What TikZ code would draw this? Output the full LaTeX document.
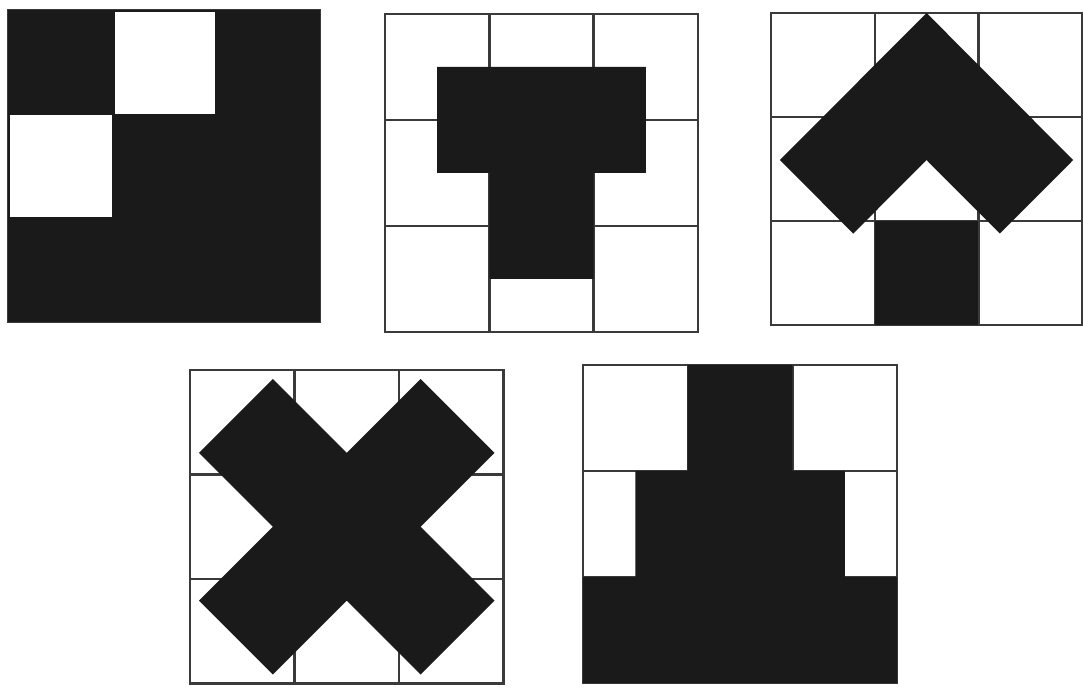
\documentclass[tikz,border=0pt]{standalone}
\definecolor{ink}{HTML}{1A1A1A}
\definecolor{gridc}{HTML}{3A3A3A}
\tikzset{
  gridline/.style={draw=gridc, line width=1.2pt, line cap=rect},
  blk/.style={fill=ink}
}
\newcommand\mypanelgrid{%
  \draw[gridline] (0,0) rectangle (3,3);
  \foreach \i in {1,2} {
    \draw[gridline] (\i,0) -- (\i,3);
    \draw[gridline] (0,\i) -- (3,\i);
  }%
}
\begin{document}
\begin{tikzpicture}[x=0.5pt,y=-0.5pt]
\useasboundingbox[fill=white] (0,0) rectangle (1083,695);

% Panel 1
\begin{scope}[shift={(8,10)},scale=104]
  \mypanelgrid
  \fill[blk] (0,0) rectangle (3,3);
  \fill[white] (1.03,0.02) rectangle (1.99,1);
  \fill[white] (0.02,1.01) rectangle (1,1.99);
\end{scope}

% Panel 2
\begin{scope}[shift={(385,14)},xscale=104.3,yscale=106]
  \mypanelgrid
  \fill[blk] (0.5,0.5) -- (2.5,0.5) -- (2.5,1.5) -- (2,1.5) -- (2,2.5)
             -- (1,2.5) -- (1,1.5) -- (0.5,1.5) -- cycle;
\end{scope}

% Panel 3
\begin{scope}[shift={(771,13)},xscale=103.7,yscale=104]
  \mypanelgrid
  \fill[blk] (1.5,0) -- (2.914,1.414) -- (2.207,2.121) -- (1.5,1.414)
             -- (0.793,2.121) -- (0.086,1.414) -- cycle;
  \fill[blk] (1,2) rectangle (2,3);
\end{scope}

% Panel 4
\begin{scope}[shift={(190,370)},scale=104.5]
  \mypanelgrid
  \begin{scope}[shift={(1.5,1.5)},rotate=45]
    \fill[blk] (-0.5,-1.5) -- (0.5,-1.5) -- (0.5,-0.5) -- (1.5,-0.5)
               -- (1.5,0.5) -- (0.5,0.5) -- (0.5,1.5) -- (-0.5,1.5)
               -- (-0.5,0.5) -- (-1.5,0.5) -- (-1.5,-0.5) -- (-0.5,-0.5) -- cycle;
  \end{scope}
\end{scope}

% Panel 5
\begin{scope}[shift={(583,365)},xscale=104.7,yscale=106]
  \mypanelgrid
  \fill[blk] (1,0) -- (2,0) -- (2,1) -- (2.5,1) -- (2.5,2) -- (3,2) -- (3,3)
             -- (0,3) -- (0,2) -- (0.5,2) -- (0.5,1) -- (1,1) -- cycle;
\end{scope}
\end{tikzpicture}
\end{document}
